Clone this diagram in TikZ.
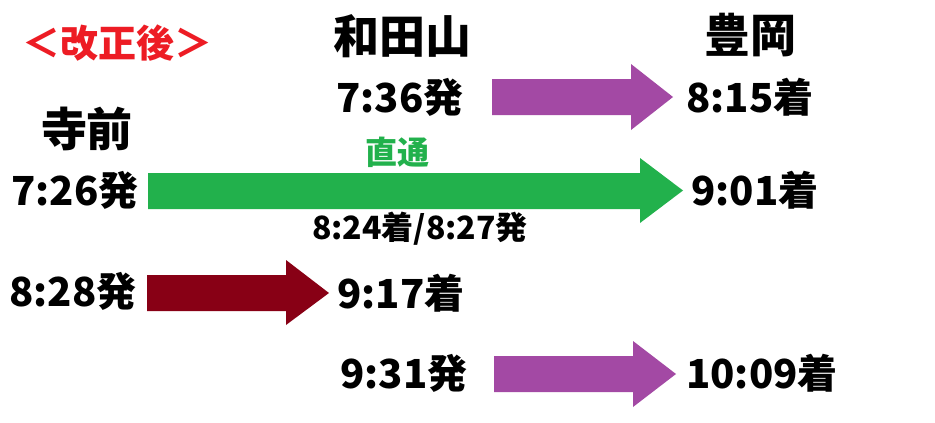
\documentclass[tikz,border=0pt]{standalone}
\usepackage{fontspec}
\newfontfamily\jp{Noto Sans CJK JP}
\definecolor{pgreen}{HTML}{22B14C}
\definecolor{ppurple}{HTML}{A349A4}
\definecolor{pdarkred}{HTML}{880015}
\definecolor{pred}{HTML}{ED1C24}
\tikzset{
  lbl/.style={inner sep=0pt, font=\jp\bfseries\fontsize{40}{44}\selectfont},
  stn/.style={inner sep=0pt, font=\jp\bfseries\fontsize{46}{50}\selectfont},
  small/.style={inner sep=0pt, font=\jp\bfseries\fontsize{32}{35}\selectfont},
}
\begin{document}
\begin{tikzpicture}[x=1pt,y=-1pt]
\useasboundingbox[fill=white] (0,0) rectangle (935,423);
% arrows
\fill[ppurple] (492,79) -- (631,79) -- (631,64) -- (673,97) -- (631,130) -- (631,115) -- (492,115) -- cycle;
\fill[pgreen] (148,173) -- (640,173) -- (640,158) -- (683,190.5) -- (640,223) -- (640,209) -- (148,209) -- cycle;
\fill[pdarkred] (147,275) -- (286,275) -- (286,260) -- (329,293) -- (286,325) -- (286,311) -- (147,311) -- cycle;
\fill[ppurple] (494,356) -- (633,356) -- (633,341) -- (676,374) -- (633,407) -- (633,392) -- (494,392) -- cycle;
% texts
\node[inner sep=0pt, text=pred, font=\jp\bfseries\fontsize{38}{41}\selectfont] (title) at (118,43) {＜改正後＞};
\node[stn] (wadayama) at (402,36) {和田山};
\node[stn] (toyooka) at (750,35) {豊岡};
\node[stn] (terasaki) at (87,129) {寺前};
\node[lbl] (t736) at (400,97) {7:36発};
\node[lbl] (t815) at (750,97) {8:15着};
\node[small, text=pgreen] (direct) at (397,152) {直通};
\node[lbl] (t726) at (75,190) {7:26発};
\node[lbl] (t901) at (755,190) {9:01着};
\node[small] (t824) at (420,229) {8:24着/8:27発};
\node[lbl] (t828) at (73,291) {8:28発};
\node[lbl] (t917) at (401,293) {9:17着};
\node[lbl] (t931) at (404,373) {9:31発};
\node[lbl] (t1009) at (762,373) {10:09着};
\end{tikzpicture}
\end{document}
